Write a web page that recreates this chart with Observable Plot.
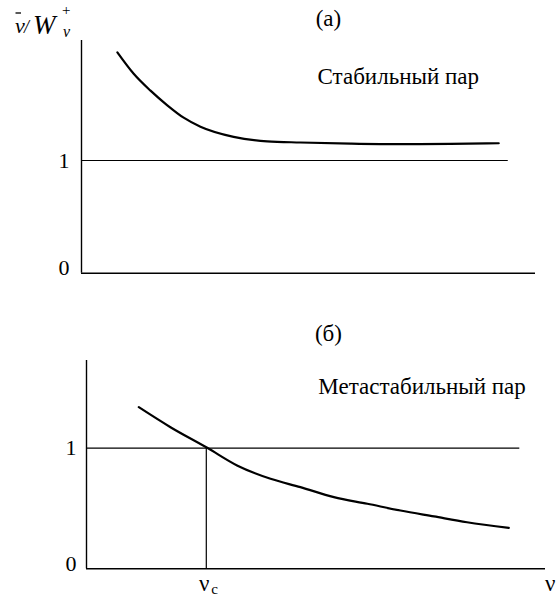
<!DOCTYPE html>
<html><head><meta charset="utf-8">
<script src="https://cdn.jsdelivr.net/npm/d3@7"></script>
<script src="https://cdn.jsdelivr.net/npm/@observablehq/plot@0.6"></script>
<style>
body{margin:0;background:#fff;}
#wrap{position:relative;width:558px;height:597px;}
#wrap svg{position:absolute;left:0;font-family:"Liberation Serif",serif;}
#wrap svg text{font-family:"Liberation Serif",serif;}
</style></head><body>
<div id="wrap"></div>
<script>
// Panel (a): stable vapour
const xA = [0.79, 1.15, 1.52, 1.89, 2.25, 2.62, 3.35, 4.09, 4.82, 5.93, 7.03, 8.13, 9.19];
const yA = [1.96, 1.77, 1.62, 1.49, 1.38, 1.30, 1.21, 1.17, 1.16, 1.15, 1.145, 1.147, 1.153];
const refA = [{x1: 0, x2: 9.4, y: 1}];
// Panel (b): metastable vapour
const xB = [1.14, 1.83, 2.63, 3.28, 4.01, 4.66, 5.39, 6.12, 6.84, 7.57, 8.29, 9.20];
const yB = [1.34, 1.174, 1.003, 0.857, 0.746, 0.677, 0.594, 0.539, 0.483, 0.434, 0.386, 0.34];
const refB = [{x1: 0, x2: 9.44, y: 1}];
const nuC = 2.61;
const yTicks = [1];
const yTicksZero = [0];
const titleA = [{x: 5.44, y: 2.26, text: "(а)"}];
const noteA = [{x: 5.2, y: 1.745, text: "Стабильный пар"}];
const titleB = [{x: 5.27, y: 1.95, text: "(б)"}, {x: 10.1, y: -0.12, text: "ν"}];
const noteB = [{x: 5.05, y: 1.51, text: "Метастабильный пар"}];
const nuCLabel = [{x: nuC, y: -0.12, text: "ν", sub: "c"}];

const font = "Liberation Serif";
function panel(xs, ys, ref, yMax, titles, notes, opts) {
  const data = xs.map((x, i) => ({x, y: ys[i]}));
  const marks = [
    Plot.ruleX([0], {y1: 0, y2: yMax, stroke: "#000", strokeWidth: 1.4}),
    Plot.ruleY([0], {x1: 0, x2: 10, stroke: "#000", strokeWidth: 1.4}),
    Plot.ruleY(ref, {x1: "x1", x2: "x2", y: "y", stroke: "#000", strokeWidth: 1.2}),
    Plot.axisY(yTicks, {tickSize: 0, tickPadding: opts.pad, fontSize: 22, fontFamily: font, label: null, tickFormat: d => String(d)}),
    Plot.axisY(yTicksZero, {tickSize: 0, tickPadding: opts.pad, dy: -5, fontSize: 22, fontFamily: font, label: null, tickFormat: d => String(d)}),
    Plot.line(data, {x: "x", y: "y", curve: "monotone-x", stroke: "#000", strokeWidth: 2.2}),
    Plot.text(titles, {x: "x", y: "y", text: "text", textAnchor: "middle", fontSize: 23, fontFamily: font, fill: "#000"}),
    Plot.text(notes, {x: "x", y: "y", text: "text", textAnchor: "start", fontSize: 23, fontFamily: font, fill: "#000"})
  ];
  if (opts.extra) marks.push(...opts.extra);
  return Plot.plot({
    width: 558, height: opts.height,
    marginLeft: opts.ml, marginRight: opts.mr, marginTop: opts.mt, marginBottom: opts.mb,
    x: {domain: [0, 10], axis: null},
    y: {domain: [0, yMax], axis: null},
    style: {overflow: "visible", background: "transparent"},
    marks
  });
}

const a = panel(xA, yA, refA, 2.065, titleA, noteA, {height: 290, ml: 81, mr: 23, mt: 40, mb: 17.3, pad: 12});
a.style.top = "0px";
const b = panel(xB, yB, refB, 1.727, titleB, noteB, {
  height: 307, ml: 86, mr: 13, mt: 70, mb: 28.7, pad: 10,
  extra: [
    Plot.ruleX([nuC], {y1: 0, y2: 1, stroke: "#000", strokeWidth: 1.2}),
    Plot.text(nuCLabel, {x: "x", y: "y", text: "text", dx: -2, fontSize: 23, fontFamily: font, fill: "#000"}),
    Plot.text(nuCLabel, {x: "x", y: "y", text: "sub", dx: 5, dy: 6, textAnchor: "start", fontSize: 15, fontFamily: font, fill: "#000"})
  ]
});
b.style.top = "290px";
const wrap = document.getElementById("wrap");
wrap.appendChild(a);
wrap.appendChild(b);

// y-axis title of the upper panel: ν̄ / W⁺_ν
const t = d3.select(wrap).append("svg").attr("width", 90).attr("height", 40)
  .style("top", "0px").style("left", "0px").style("overflow", "visible");
t.append("line").attr("x1", 15.5).attr("x2", 21).attr("y1", 13).attr("y2", 13)
  .attr("stroke", "#000").attr("stroke-width", 1.3);
const parts = [
  {x: 15, y: 33, s: 22, it: true, tx: "ν"},
  {x: 24, y: 33, s: 18, it: true, tx: "/"},
  {x: 33, y: 34, s: 27, it: true, tx: "W"},
  {x: 62, y: 15, s: 15, it: false, tx: "+"},
  {x: 63, y: 37, s: 16, it: true, tx: "ν"}
];
t.selectAll("text").data(parts).join("text")
  .attr("x", d => d.x).attr("y", d => d.y).attr("font-size", d => d.s)
  .attr("font-style", d => d.it ? "italic" : "normal").attr("fill", "#000").text(d => d.tx);
</script>
</body></html>
